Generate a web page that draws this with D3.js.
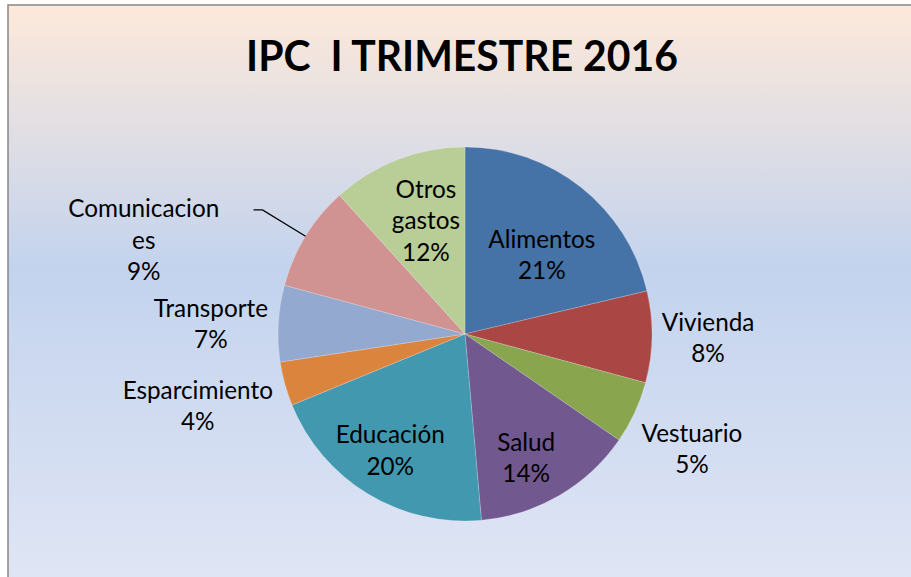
<!DOCTYPE html>
<html lang="es">
<head>
<meta charset="UTF-8">
<title>IPC I Trimestre 2016</title>
<script src="https://cdn.jsdelivr.net/npm/d3@7"></script>
<style>
  body { margin: 0; background: #fff; }
  svg { display: block; }
</style>
</head>
<body>
<svg width="911" height="577" id="chart"></svg>
<script>
const categories = ['Alimentos', 'Vivienda', 'Vestuario', 'Salud', 'Educación',
                    'Esparcimiento', 'Transporte', 'Comunicaciones', 'Otros gastos'];
const values = [21.3, 7.9, 5.4, 14.0, 20.2, 3.8, 6.6, 9.1, 11.7];
const percentLabels = ['21%', '8%', '5%', '14%', '20%', '4%', '7%', '9%', '12%'];
const labelLines = [['Alimentos'], ['Vivienda'], ['Vestuario'], ['Salud'], ['Educación'],
                    ['Esparcimiento'], ['Transporte'], ['Comunicacion', 'es'], ['Otros', 'gastos']];
const colors = ['#4572a7', '#aa4643', '#89a54e', '#71588f', '#4198af',
                '#db843d', '#93a9cf', '#d19392', '#b9cd96'];

const svg = d3.select('#chart');
const width = +svg.attr('width');
const height = +svg.attr('height');

// background gradient + frame
const defs = svg.append('defs');
const grad = defs.append('linearGradient').attr('id', 'bg')
  .attr('gradientUnits', 'userSpaceOnUse')
  .attr('x1', 0).attr('y1', 5).attr('x2', 0).attr('y2', height);
grad.append('stop').attr('offset', 0).attr('stop-color', '#fde9da');
grad.append('stop').attr('offset', 0.46).attr('stop-color', '#c3d3ee');
grad.append('stop').attr('offset', 1).attr('stop-color', '#dfe5f4');

svg.append('rect').attr('x', 8).attr('y', 5).attr('width', width + 20).attr('height', height + 20)
  .attr('fill', 'url(#bg)').attr('stroke', '#878787').attr('stroke-width', 1.5);

svg.append('text').text('IPC  I TRIMESTRE 2016')
  .attr('x', 462).attr('y', 71)
  .attr('text-anchor', 'middle')
  .attr('font-family', 'Lato, sans-serif').attr('font-weight', 'bold')
  .attr('font-size', 42).attr('fill', '#000')
  .style('white-space', 'pre')
  .attr('textLength', 432).attr('lengthAdjust', 'spacingAndGlyphs');

// pie
const cx = 465, cy = 334, r = 187;
const data = categories.map((c, i) => ({ name: c, value: values[i], pct: percentLabels[i], lines: labelLines[i], color: colors[i] }));
const pie = d3.pie().value(d => d.value).sort(null);
const arc = d3.arc().innerRadius(0).outerRadius(r);
const arcs = pie(data);

const g = svg.append('g').attr('transform', `translate(${cx},${cy})`);
g.selectAll('path').data(arcs).join('path')
  .attr('d', arc)
  .attr('fill', d => d.data.color)
  .attr('stroke', 'rgba(255,255,255,0.35)').attr('stroke-width', 0.6);

// label placement (Excel "best fit"): radius factor and angle nudge from the slice mid angle
const labelLayout = {
  'Alimentos': { k: 0.59, da: 5.8 }, 'Vivienda': { k: 1.30, da: 0 }, 'Vestuario': { k: 1.36, da: 2 },
  'Salud': { k: 0.74, da: 4 }, 'Educación': { k: 0.74, da: 1.4 }, 'Esparcimiento': { k: 1.48, da: 0.4 },
  'Transporte': { k: 1.36, da: -1 }, 'Comunicaciones': { k: 1.79, da: -15.2 }, 'Otros gastos': { k: 0.64, da: 2 }
};
const polar = (rad, ang) => [rad * Math.sin(ang), -rad * Math.cos(ang)];
const lineH = 31.5, capH = 17;

arcs.forEach(d => {
  const mid = (d.startAngle + d.endAngle) / 2;
  const lay = labelLayout[d.data.name];
  const [lx, ly] = polar(r * lay.k, mid + lay.da * Math.PI / 180);
  const lines = d.data.lines.concat([d.data.pct]);
  const y0 = ly - (lines.length - 1) * lineH / 2 + capH / 2;
  const t = g.append('text')
    .attr('text-anchor', 'middle')
    .attr('font-family', 'Lato, sans-serif').attr('font-size', 24.3).attr('fill', '#000');
  lines.forEach((s, i) => t.append('tspan').attr('x', lx).attr('y', y0 + i * lineH).text(s));

  if (lay.k > 1.6) {
    // leader line from the slice edge
    const p0 = polar(r, mid), p1 = polar(r * 1.27, mid);
    g.append('polyline')
      .attr('points', [p0, p1, [p1[0] - 9, p1[1]]].map(p => p.join(',')).join(' '))
      .attr('fill', 'none').attr('stroke', '#000').attr('stroke-width', 1.3);
  }
});
</script>
</body>
</html>
